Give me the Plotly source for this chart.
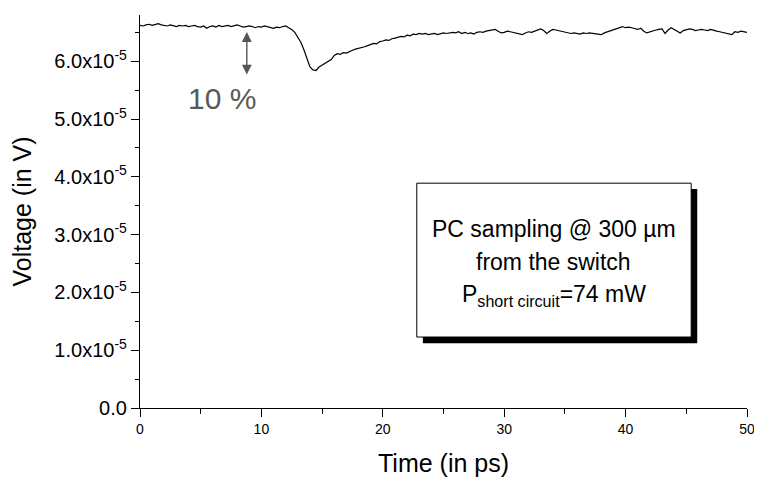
import plotly.graph_objects as go

# Sampling times (ps), 0.25 ps step
times_ps = [i * 0.25 for i in range(201)]

# Voltage in units of 1e-5 V
voltage_e5 = [
    6.62, 6.61, 6.63, 6.64, 6.62, 6.64, 6.65, 6.63, 6.62, 6.61, 6.63, 6.62,
    6.60, 6.62, 6.61, 6.62, 6.60, 6.61, 6.62, 6.60, 6.59, 6.61, 6.57, 6.60,
    6.61, 6.59, 6.62, 6.60, 6.61, 6.62, 6.60, 6.62, 6.63, 6.61, 6.59, 6.60,
    6.61, 6.60, 6.58, 6.60, 6.59, 6.61, 6.60, 6.58, 6.57, 6.59, 6.58, 6.60,
    6.61,
    6.58, 6.55, 6.50, 6.42, 6.33, 6.20, 6.04, 5.90, 5.85, 5.84, 5.90, 5.93,
    5.96, 6.00, 6.03, 6.10, 6.13, 6.12, 6.15, 6.14, 6.17, 6.19, 6.21, 6.22,
    6.24, 6.25, 6.27, 6.29, 6.31, 6.30, 6.34, 6.35, 6.37, 6.36, 6.39, 6.40,
    6.42, 6.43, 6.42, 6.45, 6.44, 6.47, 6.46, 6.48, 6.47, 6.48, 6.46, 6.47,
    6.48, 6.46, 6.47, 6.49, 6.48,
    6.49, 6.50,
    6.49, 6.51, 6.48, 6.50,
    6.48, 6.49, 6.47, 6.50,
    6.51, 6.50, 6.52, 6.53,
    6.54, 6.55, 6.52, 6.49,
    6.50, 6.52, 6.51, 6.50,
    6.48, 6.47, 6.46, 6.49,
    6.51, 6.50, 6.52, 6.55,
    6.56, 6.53, 6.48, 6.52,
    6.55, 6.54, 6.53, 6.51,
    6.50, 6.49, 6.48, 6.49,
    6.48, 6.47, 6.49, 6.48,
    6.49, 6.48, 6.47, 6.46,
    6.46, 6.49, 6.51, 6.53,
    6.54, 6.57, 6.58, 6.60,
    6.58, 6.59, 6.58, 6.56,
    6.55, 6.57, 6.52, 6.49,
    6.51, 6.53, 6.54, 6.55,
    6.56, 6.48, 6.54, 6.58,
    6.55, 6.52, 6.49, 6.53,
    6.54, 6.56, 6.55, 6.53,
    6.54, 6.55, 6.54, 6.53,
    6.55, 6.53, 6.52, 6.51,
    6.50, 6.49, 6.47, 6.46,
    6.51, 6.50, 6.52, 6.51,
    6.50,
]
voltage_v = [v * 1e-5 for v in voltage_e5]

x_tick_vals = [0, 10, 20, 30, 40, 50]
x_tick_text = ["0", "10", "20", "30", "40", "50"]
y_tick_vals = [0, 1e-5, 2e-5, 3e-5, 4e-5, 5e-5, 6e-5]
y_tick_text = ["0.0", "1.0x10<sup>-5</sup>", "2.0x10<sup>-5</sup>", "3.0x10<sup>-5</sup>",
               "4.0x10<sup>-5</sup>", "5.0x10<sup>-5</sup>", "6.0x10<sup>-5</sup>"]

FONT = "Liberation Sans, Arial, sans-serif"

fig = go.Figure()
fig.add_trace(go.Scatter(x=times_ps, y=voltage_v, mode="lines",
                         line=dict(color="black", width=1.2), showlegend=False))

fig.update_layout(
    width=754, height=471,
    margin=dict(l=132, r=12, t=7, b=71),
    paper_bgcolor="white", plot_bgcolor="white",
    font=dict(family=FONT, color="black", size=14),
    xaxis=dict(
        range=[0, 50], showgrid=False, zeroline=False,
        showline=True, linecolor="black", linewidth=1.3,
        ticks="outside", ticklen=8, tickwidth=1.2, tickcolor="black",
        tickmode="array", tickvals=x_tick_vals, ticktext=x_tick_text,
        tickfont=dict(family=FONT, size=14, color="black"),
        minor=dict(dtick=5, tick0=0, ticks="outside", ticklen=5, tickcolor="black", tickwidth=1.2),
        title=dict(text="Time (in ps)", font=dict(family=FONT, size=25, color="black"), standoff=18),
    ),
    yaxis=dict(
        range=[0, 6.8e-5], showgrid=False, zeroline=False,
        showline=True, linecolor="black", linewidth=1.3,
        ticks="outside", ticklen=8, tickwidth=1.2, tickcolor="black",
        tickmode="array", tickvals=y_tick_vals, ticktext=y_tick_text,
        tickfont=dict(family=FONT, size=20, color="black"),
        minor=dict(dtick=0.5e-5, tick0=0, ticks="outside", ticklen=4, tickcolor="black", tickwidth=1.2),
        title=dict(text="Voltage (in V)", font=dict(family=FONT, size=25, color="black"), standoff=18),
    ),
    shapes=[
        dict(type="rect", xref="x", yref="y", x0=23.3, x1=45.9, y0=1.12e-5, y1=3.79e-5,
             fillcolor="black", line=dict(color="black", width=0)),
        dict(type="rect", xref="x", yref="y", x0=22.8, x1=45.4, y0=1.228e-5, y1=3.89e-5,
             fillcolor="white", line=dict(color="black", width=1)),
    ],
    annotations=[
        dict(x=34.1, y=3.10e-5, xref="x", yref="y", text="PC sampling @ 300 µm",
             showarrow=False, font=dict(family=FONT, size=23, color="black")),
        dict(x=34.1, y=2.53e-5, xref="x", yref="y", text="from the switch",
             showarrow=False, font=dict(family=FONT, size=23, color="black")),
        dict(x=34.1, y=1.94e-5, xref="x", yref="y", text="P<sub>short circuit</sub>=74 mW",
             showarrow=False, font=dict(family=FONT, size=23, color="black")),
        dict(x=8.8, y=5.77e-5, ax=8.8, ay=6.53e-5, xref="x", yref="y", axref="x", ayref="y",
             text="", showarrow=True, arrowside="end+start", arrowhead=2, startarrowhead=2,
             arrowsize=1.4, startarrowsize=1.4, arrowwidth=1.4, arrowcolor="#555555"),
        dict(x=6.72, y=5.35e-5, xref="x", yref="y", text="10 %", showarrow=False,
             font=dict(family=FONT, size=30, color="#595959")),
    ],
)

fig.write_html("out.html")
